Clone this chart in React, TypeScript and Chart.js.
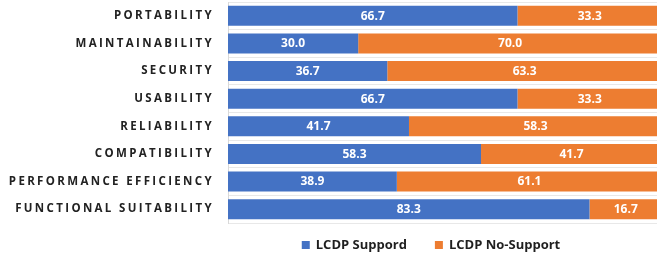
import React, { useEffect, useRef } from "react";
import { Chart, registerables } from "chart.js";

Chart.register(...registerables);

const categories = [
  "PORTABILITY",
  "MAINTAINABILITY",
  "SECURITY",
  "USABILITY",
  "RELIABILITY",
  "COMPATIBILITY",
  "PERFORMANCE EFFICIENCY",
  "FUNCTIONAL SUITABILITY",
];
const supportValues = [66.7, 30.0, 36.7, 66.7, 41.7, 58.3, 38.9, 83.3];
const noSupportValues = [33.3, 70.0, 63.3, 33.3, 58.3, 41.7, 61.1, 16.7];
const seriesNames = ["LCDP Suppord", "LCDP No-Support"];
const seriesColors = ["#4472C4", "#ED7D31"];

const FONT = "'Open Sans', 'Liberation Sans', sans-serif";

const chartPlugin = {
  id: "customDecor",
  afterDatasetsDraw(chart: any) {
    const ctx = chart.ctx;
    ctx.save();
    ctx.font = `bold 12px ${FONT}`;
    ctx.fillStyle = "#ffffff";
    ctx.textAlign = "center";
    ctx.textBaseline = "middle";
    chart.data.datasets.forEach((ds: any, di: number) => {
      const meta = chart.getDatasetMeta(di);
      meta.data.forEach((bar: any, i: number) => {
        const p = bar.getProps(["x", "y", "base"], true);
        const cx = (p.x + p.base) / 2;
        ctx.fillText(Number(ds.data[i]).toFixed(1), cx, p.y + 0.5);
      });
    });
    ctx.restore();
    (ctx as any).letterSpacing = "2.35px";
  },
  afterDraw(chart: any) {
    const ctx = chart.ctx;
    (ctx as any).letterSpacing = "0px";
    ctx.save();
    ctx.font = `bold 13px ${FONT}`;
    ctx.textBaseline = "middle";
    ctx.textAlign = "left";
    const box = 8;
    const gapBoxText = 6;
    const gapItems = 28;
    const items = chart.data.datasets.map((ds: any) => ({
      label: ds.label,
      color: ds.backgroundColor,
      w: ctx.measureText(ds.label).width,
    }));
    let total = 0;
    items.forEach((it: any, i: number) => {
      total += box + gapBoxText + it.w + (i > 0 ? gapItems : 0);
    });
    const centerX = 431;
    const cy = 245;
    let x = centerX - total / 2;
    items.forEach((it: any) => {
      ctx.fillStyle = it.color;
      ctx.fillRect(x, cy - box / 2, box, box);
      ctx.fillStyle = "#1f1f1f";
      ctx.fillText(it.label, x + box + gapBoxText, cy);
      x += box + gapBoxText + it.w + gapItems;
    });
    ctx.restore();
  },
};

export default function App() {
  const ref = useRef<HTMLCanvasElement>(null);
  useEffect(() => {
    if (!ref.current) return;
    const chart = new Chart(ref.current, {
      type: "bar",
      data: {
        labels: categories,
        datasets: [
          {
            label: seriesNames[0],
            data: supportValues,
            backgroundColor: seriesColors[0],
            barPercentage: 0.72,
            categoryPercentage: 1,
          },
          {
            label: seriesNames[1],
            data: noSupportValues,
            backgroundColor: seriesColors[1],
            barPercentage: 0.72,
            categoryPercentage: 1,
          },
        ],
      },
      options: {
        indexAxis: "y",
        responsive: false,
        animation: false,
        devicePixelRatio: 1,
        layout: { padding: { top: 2, bottom: 32, left: 0, right: 0 } },
        plugins: {
          legend: { display: false },
          tooltip: { enabled: false },
        },
        scales: {
          x: {
            stacked: true,
            min: 0,
            max: 100,
            display: false,
          },
          y: {
            stacked: true,
            afterFit: (scale: any) => {
              scale.width = 228;
              scale.paddingTop = 0;
              scale.paddingBottom = 0;
            },
            grid: {
              offset: true,
              color: "#e8e8e8",
              drawTicks: false,
            },
            border: { color: "#d9d9d9" },
            ticks: {
              z: 1,
              padding: 14,
              color: "#222222",
              font: { family: FONT, size: 11.5, weight: "bold" },
            },
          },
        },
      },
      plugins: [chartPlugin],
    } as any);
    return () => chart.destroy();
  }, []);
  return (
    <div
      style={{
        position: "absolute",
        left: 0,
        top: 0,
        width: 657,
        height: 255,
        overflow: "hidden",
        background: "#ffffff",
      }}
    >
      <canvas ref={ref} width={662} height={255} style={{ display: "block" }} />
    </div>
  );
}
